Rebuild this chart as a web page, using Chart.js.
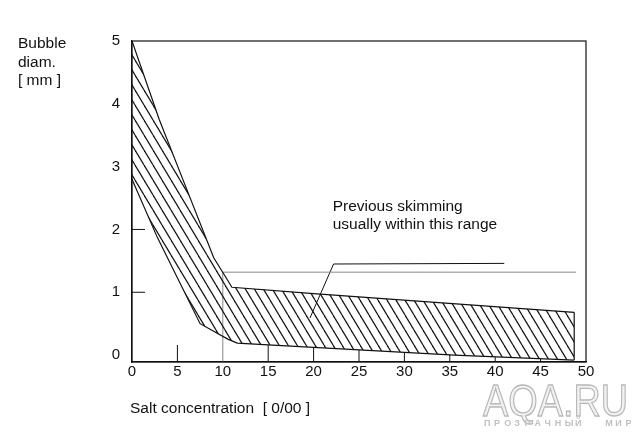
<!DOCTYPE html>
<html>
<head>
<meta charset="utf-8">
<script src="https://cdn.jsdelivr.net/npm/chart.js@4.4.1/dist/chart.umd.min.js"></script>
<style>
html,body{margin:0;padding:0;background:#fff;}
#wrap{width:644px;height:441px;}
</style>
</head>
<body>
<div id="wrap"><canvas id="c" width="644" height="441"></canvas></div>
<script>
// ---- data ----
const upperX = [0, 3, 6, 9, 10.5, 11, 20, 48.7];
const upperY = [5.0, 3.75, 2.65, 1.55, 1.2, 1.08, 0.98, 0.68];
const lowerX = [0, 2.8, 7.5, 10.6, 11.6, 15.5, 25.5, 35.5, 48.7];
const lowerY = [2.8, 1.87, 0.5, 0.25, 0.19, 0.16, 0.08, 0.0, -0.08];
const edgeX = [48.7, 48.7];
const edgeY = [0.68, -0.08];
const rangeX = [10, 10, 48.9];
const rangeY = [-0.11, 1.32, 1.32];
const leaderX = [41, 22.2, 19.6];
const leaderY = [1.46, 1.45, 0.59];
const xTicks = [0, 5, 10, 15, 20, 25, 30, 35, 40, 45, 50];
const yTicks = [0, 1, 2, 3, 4, 5];
const innerXTicks = [5, 15, 20, 25, 30, 35, 40, 45];
const innerYTicks = [1, 2];
const yTitle = ["Bubble", "diam.", "[ mm ]"];
const xTitle = "Salt concentration  [ 0/00 ]";
const note = ["Previous skimming", "usually within this range"];
const noteAt = {x: 22.1, y: 2.3};

const pts = (xs, ys) => xs.map((x, i) => ({x: x, y: ys[i]}));

// hatch pattern
function makeHatch() {
  const w = 9, h = 15;
  const pc = document.createElement('canvas');
  pc.width = w; pc.height = h;
  const p = pc.getContext('2d');
  p.strokeStyle = '#151515';
  p.lineWidth = 1.25;
  for (let k = -1; k <= 1; k++) {
    p.beginPath();
    p.moveTo(k * w, 0);
    p.lineTo(k * w + w, h);
    p.stroke();
  }
  return p.createPattern(pc, 'repeat');
}

const FONT = '"Liberation Sans", Arial, sans-serif';

function lerp(xs, ys, x) {
  for (let i = 0; i < xs.length - 1; i++) {
    if (x >= xs[i] && x <= xs[i + 1]) {
      const t = (x - xs[i]) / (xs[i + 1] - xs[i]);
      return ys[i] + t * (ys[i + 1] - ys[i]);
    }
  }
  return ys[ys.length - 1];
}

const deco = {
  id: 'deco',
  afterDatasetsDraw(chart) {
    const ctx = chart.ctx, a = chart.chartArea;
    const xs = chart.scales.x, ys = chart.scales.y;
    ctx.save();
    // frame
    ctx.strokeStyle = '#111';
    ctx.lineWidth = 1.2;
    ctx.strokeRect(a.left, a.top, a.right - a.left, a.bottom - a.top);
    // inner ticks
    ctx.lineWidth = 1;
    innerXTicks.forEach(v => {
      const px = xs.getPixelForValue(v);
      let top = a.bottom - 17;
      if (v > 10) top = Math.max(top, ys.getPixelForValue(lerp(lowerX, lowerY, v)));
      ctx.beginPath(); ctx.moveTo(px, a.bottom); ctx.lineTo(px, top); ctx.stroke();
    });
    innerYTicks.forEach(v => {
      const py = ys.getPixelForValue(v);
      ctx.beginPath(); ctx.moveTo(a.left, py); ctx.lineTo(a.left + 13, py); ctx.stroke();
    });
    // texts
    ctx.fillStyle = '#111';
    ctx.font = '15.5px ' + FONT;
    ctx.textBaseline = 'alphabetic';
    ctx.textAlign = 'left';
    yTitle.forEach((t, i) => ctx.fillText(t, 18, 48 + i * 18.5));
    ctx.fillText(xTitle, 130, 413);
    const nx = xs.getPixelForValue(noteAt.x), ny = ys.getPixelForValue(noteAt.y);
    note.forEach((t, i) => ctx.fillText(t, nx, ny + i * 18));
    // watermark
    ctx.save();
    ctx.translate(483, 416);
    ctx.scale(0.86, 1);
    ctx.font = '44px ' + FONT;
    ctx.fillStyle = '#f2f2f2';
    ctx.strokeStyle = '#b8b8b8';
    ctx.lineWidth = 1.3;
    ctx.fillText('AQA.RU', 0, 0);
    ctx.strokeText('AQA.RU', 0, 0);
    ctx.restore();
    ctx.font = 'bold 9px ' + FONT;
    ctx.fillStyle = '#c0c0c0';
    const wm = 'ПРОЗРАЧНЫЙ  МИР';
    let cx = 484;
    for (const ch of wm) { if (ch !== ' ') ctx.fillText(ch, cx, 426); cx += 10.1; }
    ctx.restore();
  }
};

const line = (data, color, width, extra) => Object.assign({
  data: data, showLine: true, borderColor: color, borderWidth: width,
  pointRadius: 0, fill: false, tension: 0
}, extra || {});

new Chart(document.getElementById('c'), {
  type: 'scatter',
  data: {
    datasets: [
      line(pts(upperX, upperY), '#111', 1.2, {fill: '+1', backgroundColor: makeHatch()}),
      line(pts(lowerX, lowerY), '#111', 1.2),
      line(pts(edgeX, edgeY), '#111', 1.2),
      line(pts(rangeX, rangeY), '#888', 1),
      line(pts(leaderX, leaderY), '#111', 1)
    ]
  },
  plugins: [deco],
  options: {
    responsive: false,
    animation: false,
    events: [],
    layout: {padding: {top: 41, right: 58, left: 0, bottom: 0}},
    plugins: {legend: {display: false}, tooltip: {enabled: false}},
    scales: {
      x: {
        type: 'linear', min: 0, max: 50,
        afterBuildTicks: s => { s.ticks = xTicks.map(v => ({value: v})); },
        afterFit: s => { s.height = 79; },
        grid: {display: false, drawTicks: false},
        border: {display: true, color: '#111', width: 1.2},
        ticks: {color: '#111', padding: 1, font: {family: FONT, size: 15}, maxRotation: 0, autoSkip: false}
      },
      y: {
        type: 'linear', min: -0.11, max: 5,
        afterBuildTicks: s => { s.ticks = yTicks.map(v => ({value: v})); },
        afterFit: s => { s.width = 132; },
        grid: {display: false, drawTicks: false},
        border: {display: true, color: '#111', width: 1.2},
        ticks: {color: '#111', padding: 12, font: {family: FONT, size: 15}}
      }
    }
  }
});
</script>
</body>
</html>
